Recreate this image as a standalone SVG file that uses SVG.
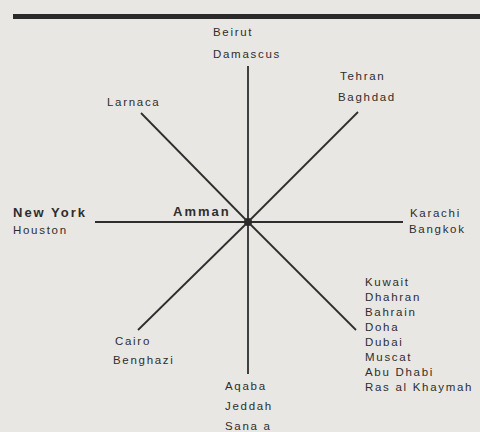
<svg xmlns="http://www.w3.org/2000/svg" width="480" height="432" viewBox="0 0 480 432">
<style>
text{font-family:"Liberation Sans","DejaVu Sans",sans-serif;font-size:11.5px;letter-spacing:1.7px;fill:#2e2e2e}
.b{font-weight:bold;font-size:13px;letter-spacing:2px}
.c{stroke:#2e2e2e;stroke-width:1.8;fill:none}
</style>
<rect width="480" height="432" fill="#e9e7e3"/>
<rect x="13" y="14" width="467" height="5" fill="#2a2a2a"/>
<g id="connectors">
<line class="c" x1="248" y1="66" x2="248" y2="374"/>
<line class="c" x1="95" y1="222" x2="403" y2="222"/>
<line class="c" x1="141" y1="113" x2="248" y2="222"/>
<line class="c" x1="358" y1="112" x2="248" y2="222"/>
<line class="c" x1="138" y1="330" x2="248" y2="222"/>
<line class="c" x1="356" y1="330" x2="248" y2="222"/>
</g>
<g id="amman">
<circle cx="248" cy="222" r="4" fill="#2a2a2a"/>
<text class="b" x="173" y="216">Amman</text>
</g>
<g id="north"><text x="213" y="36">Beirut</text><text x="213" y="58">Damascus</text></g>
<g id="northeast"><text x="340" y="80">Tehran</text><text x="338" y="101">Baghdad</text></g>
<g id="northwest"><text x="107" y="106">Larnaca</text></g>
<g id="west"><text class="b" x="13" y="217">New York</text><text x="13" y="234">Houston</text></g>
<g id="east"><text x="410" y="217">Karachi</text><text x="409" y="233">Bangkok</text></g>
<g id="southwest"><text x="115" y="345">Cairo</text><text x="113" y="364">Benghazi</text></g>
<g id="south"><text x="225" y="390">Aqaba</text><text x="225" y="410">Jeddah</text><text x="225" y="430">Sana a</text></g>
<g id="southeast">
<text x="365" y="286">Kuwait</text>
<text x="365" y="301">Dhahran</text>
<text x="365" y="316">Bahrain</text>
<text x="365" y="331">Doha</text>
<text x="365" y="346">Dubai</text>
<text x="365" y="361">Muscat</text>
<text x="365" y="376">Abu Dhabi</text>
<text x="365" y="391">Ras al Khaymah</text>
</g>
</svg>
